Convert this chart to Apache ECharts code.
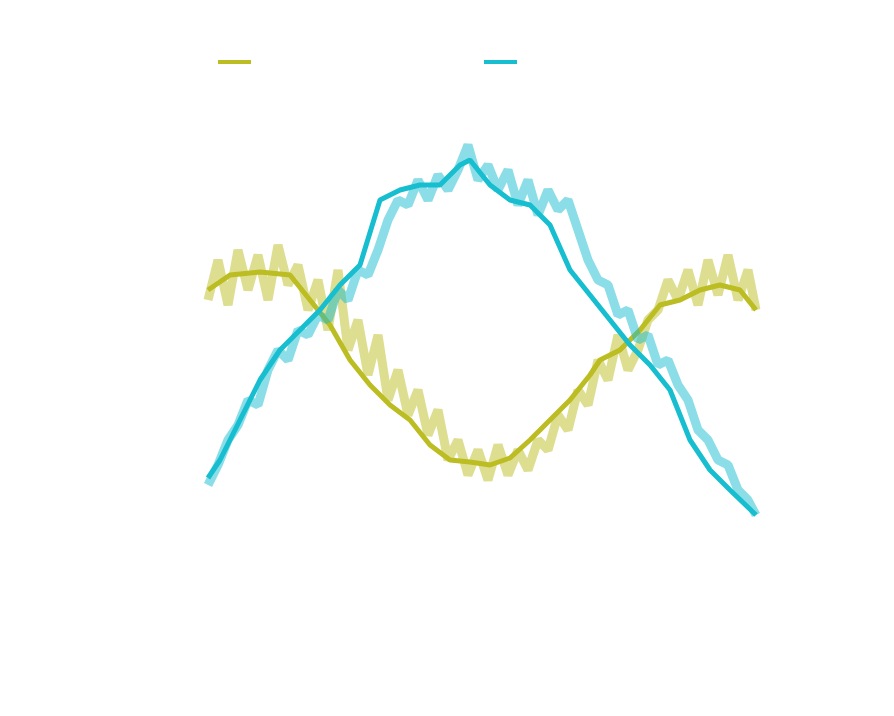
<!DOCTYPE html>
<html>
<head>
<meta charset="utf-8">
<script src="https://cdn.jsdelivr.net/npm/echarts@6/dist/echarts.min.js"></script>
<style>html,body{margin:0;padding:0;background:#fff}#chart{width:894px;height:716px}</style>
</head>
<body>
<div id="chart"></div>
<script>
// x positions and smoothed values
const meanX = [0, 22, 52, 82, 102, 122, 142, 162, 182, 202, 222, 242, 262, 282, 302, 322, 342, 362, 382, 392, 412, 432, 452, 472, 492, 512, 532, 548];
const yellowMean = [310, 325, 328, 325, 300, 275, 240, 215, 195, 180, 155, 140, 138, 135, 142, 160, 180, 200, 225, 240, 250, 270, 295, 300, 310, 315, 310, 290];
const cyanX = [0, 12, 32, 52, 72, 92, 112, 132, 152, 172, 192, 212, 232, 252, 262, 282, 302, 322, 342, 362, 382, 402, 422, 442, 462, 482, 502, 522, 548];
const cyanMean = [122, 140, 180, 220, 250, 270, 290, 315, 335, 400, 410, 415, 415, 435, 440, 415, 400, 395, 375, 330, 305, 280, 255, 235, 210, 160, 130, 110, 85];
// noisy raw traces, every 10 units of x
const noiseX = [0,10,20,30,40,50,60,70,80,90,100,110,120,130,140,150,160,170,180,190,200,210,220,230,240,250,260,270,280,290,300,310,320,330,340,350,360,370,380,390,400,410,420,430,440,450,460,470,480,490,500,510,520,530,540,548];
const yellowNoise = [300,340,295,350,310,345,300,355,315,335,290,320,270,330,250,280,225,265,200,230,185,210,165,190,140,160,125,150,120,155,125,150,130,160,150,185,170,210,195,240,220,265,230,250,280,290,320,300,330,295,340,305,345,300,330,290];
const cyanNoise = [115,135,160,175,200,195,230,250,240,270,265,285,280,310,300,330,325,350,380,400,395,420,400,425,410,430,455,420,435,410,430,395,420,385,410,390,400,370,340,320,315,285,290,260,265,235,240,215,200,170,160,140,135,110,100,85];

const chart = echarts.init(document.getElementById('chart'));
const toPairs = (xs, ys) => xs.map((x, i) => [x, ys[i]]);
chart.setOption({
    animation: false,
    legend: {
        top: 55, itemGap: 233, itemWidth: 33, itemHeight: 4,
        icon: 'rect', data: ['a', 'b'], formatter: () => '',
        left: 213
    },
    grid: {left: 208, right: 138, top: 100, bottom: 116},
    xAxis: {type: 'value', min: 0, max: 548, show: false},
    yAxis: {type: 'value', min: 0, max: 500, show: false},
    series: [
        {name: 'a', type: 'line', showSymbol: false, data: toPairs(noiseX, yellowNoise),
            lineStyle: {color: '#bcbd22', width: 9, opacity: 0.5}, itemStyle: {color: '#bcbd22'}},
        {name: 'a', type: 'line', showSymbol: false, data: toPairs(meanX, yellowMean),
            lineStyle: {color: '#bcbd22', width: 5}, itemStyle: {color: '#bcbd22'}},
        {name: 'b', type: 'line', showSymbol: false, data: toPairs(noiseX, cyanNoise),
            lineStyle: {color: '#17becf', width: 9, opacity: 0.5}, itemStyle: {color: '#17becf'}},
        {name: 'b', type: 'line', showSymbol: false, data: toPairs(cyanX, cyanMean),
            lineStyle: {color: '#17becf', width: 5}, itemStyle: {color: '#17becf'}}
    ]
});
</script>
</body>
</html>
